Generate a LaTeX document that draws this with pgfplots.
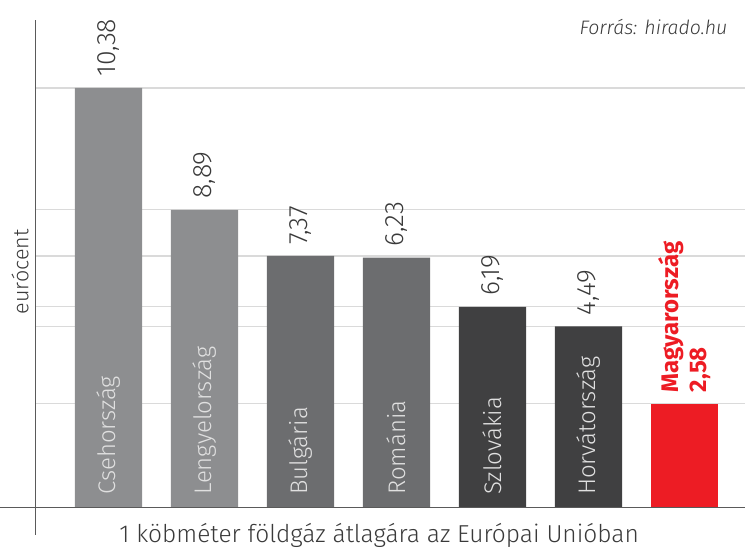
\documentclass[border=0pt]{standalone}
\usepackage{fontspec}
\setmainfont{Fira Sans}[UprightFont=* Light, BoldFont=* Bold, ItalicFont=* Light Italic, BoldItalicFont=* Bold Italic]
\usepackage{pgfplots}
\pgfplotsset{compat=1.18}
\definecolor{cLight}{HTML}{8D8E90}
\definecolor{cMid}{HTML}{6C6D6F}
\definecolor{cDark}{HTML}{404041}
\definecolor{cRed}{HTML}{ED1C24}
\definecolor{gridgray}{HTML}{DADADA}
\definecolor{axisgray}{HTML}{5A5A5A}
\definecolor{valgray}{HTML}{3A3A3A}
\tikzset{valstyle/.style={rotate=90, anchor=west, inner xsep=11pt, text=valgray,
    font=\fontsize{26.5}{30}\selectfont}}
\begin{document}
\begin{tikzpicture}[x=1pt,y=1pt]
\path[use as bounding box] (0,0) rectangle (745,554);
\begin{axis}[
  at={(36pt,46pt)}, anchor=south west,
  width=709pt, height=488pt, scale only axis,
  xmin=-0.755, xmax=6.63, ymin=0, ymax=12.06,
  axis x line*=bottom, axis y line*=left,
  axis line style={draw=axisgray, line width=1pt, -},
  ytick={2.58,4.49,4.97,6.23,7.37,10.38}, yticklabels={},
  ymajorgrids, grid style={draw=gridgray, line width=1.2pt},
  major tick length=0pt,
  xtick=\empty,
  clip=false,
  xlabel={1 köbméter földgáz átlagára az Európai Unióban},
  xlabel style={at={(axis description cs:0.484,-0.057)}, anchor=center, text=valgray,
    font=\fontsize{24.5}{28}\selectfont},
  ylabel={eurócent},
  ylabel style={at={(axis description cs:-0.0226,0.484)}, anchor=center, text=valgray,
    font=\fontsize{21.5}{24}\selectfont},
]
\addplot[ybar, bar width=0.7, bar shift=0pt, fill=cLight, draw=none,
  point meta=explicit symbolic, nodes near coords,
  every node near coord/.append style={valstyle}]
  table[meta=lab]{
x y lab
0 10.38 10,38
1 7.37 8,89
};
\addplot[ybar, bar width=0.7, bar shift=0pt, fill=cMid, draw=none,
  point meta=explicit symbolic, nodes near coords,
  every node near coord/.append style={valstyle}]
  table[meta=lab]{
x y lab
2 6.23 7,37
3 6.19 6,23
};
\addplot[ybar, bar width=0.7, bar shift=0pt, fill=cDark, draw=none,
  point meta=explicit symbolic, nodes near coords,
  every node near coord/.append style={valstyle}]
  table[meta=lab]{
x y lab
4 4.97 6,19
5 4.49 4,49
};
\addplot[ybar, bar width=0.7, bar shift=0pt, fill=cRed, draw=none,
  nodes near coords={\textbf{Magyarország}\\\textbf{2,58}},
  every node near coord/.append style={rotate=90, anchor=west, align=left, inner xsep=11pt,
    text=cRed, font=\fontsize{24}{28}\selectfont}]
  table{
x y
6 2.58
};
% country names inside the bars
\addplot[draw=none, mark=none, point meta=explicit symbolic, nodes near coords,
  every node near coord/.append style={rotate=90, anchor=west, inner xsep=13pt,
    text=white!88!black, font=\fontsize{24}{28}\selectfont}]
  table[meta=lab]{
x y lab
0 0 Csehország
1 0 Lengyelország
2 0 Bulgária
3 0 Románia
4 0 Szlovákia
5 0 Horvátország
};
\draw[axisgray, line width=1pt] (rel axis cs:-0.051,0) -- (rel axis cs:1,0);
\draw[axisgray, line width=1pt] (rel axis cs:0,0) -- (rel axis cs:0,-0.0553);
\end{axis}
\node[anchor=east, text=valgray, font=\fontsize{19.5}{22}\selectfont\itshape] at (731,527) {Forrás: hirado.hu};
\end{tikzpicture}
\end{document}
